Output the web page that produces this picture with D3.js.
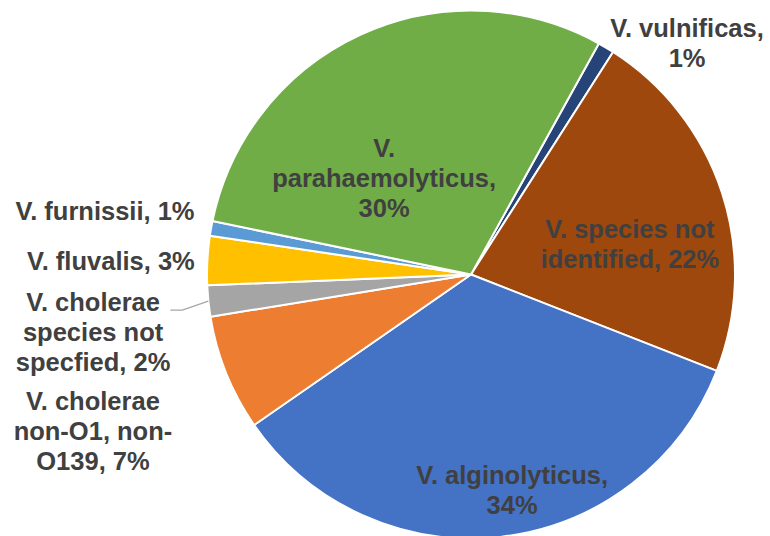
<!DOCTYPE html>
<html>
<head>
<meta charset="utf-8">
<script src="https://cdn.jsdelivr.net/npm/d3@7"></script>
<style>
  html, body { margin: 0; padding: 0; background: #fff; }
  svg { display: block; }
</style>
</head>
<body>
<svg width="770" height="536"></svg>
<script>
// slices in clockwise order, starting at the green / dark-blue boundary
var species = ["V. vulnificas", "V. species not identified", "V. alginolyticus",
  "V. cholerae non-O1, non-O139", "V. cholerae species not specfied",
  "V. fluvalis", "V. furnissii", "V. parahaemolyticus"];
var shares = [1.0, 21.9, 34.4, 7.1, 1.9, 3.0, 0.9, 29.8];
// label text as it appears, one entry per line ({p} = percentage)
var labelLines = [
  ["V. vulnificas,", "{p}"],
  ["V. species not", "identified, {p}"],
  ["V. alginolyticus,", "{p}"],
  ["V. cholerae", "non-O1, non-", "O139, {p}"],
  ["V. cholerae", "species not", "specfied, {p}"],
  ["V. fluvalis, {p}"],
  ["V. furnissii, {p}"],
  ["V.", "parahaemolyticus,", "{p}"]
];

var colors = ["#264478", "#9E480E", "#4472C4", "#ED7D31", "#A5A5A5", "#FFC000", "#5B9BD5", "#70AD47"];
// label placement: angle (deg, clockwise from 12 o'clock) and radius factor
var labelPlace = [[43.0, 1.2], [79.1, 0.613], [169.2, 0.831], [247.5, 1.55],
  [261.35, 1.448], [272.15, 1.365], [279.84, 1.407], [318.0, 0.492]];

var svg = d3.select("svg"),
  cx = 471, cy = 274.5, radius = 264,
  startDeg = 28.96,
  lineH = 30,
  g = svg.append("g").attr("transform", "translate(" + cx + "," + cy + ")");

var rad = function(deg) { return deg * Math.PI / 180; };

var pie = d3.pie()
  .sort(null)
  .value(function(d) { return d; })
  .startAngle(rad(startDeg))
  .endAngle(rad(startDeg + 360));

var arc = d3.arc().innerRadius(0).outerRadius(radius);
var arcs = pie(shares);

g.selectAll("path.slice")
  .data(arcs)
  .enter().append("path")
  .attr("class", "slice")
  .attr("fill", function(d, i) { return colors[i]; })
  .attr("stroke", "#fff")
  .attr("stroke-width", 2)
  .attr("stroke-linejoin", "round")
  .attr("d", arc);

var pct = function(v) { return Math.round(v) + "%"; };

var labels = g.selectAll("text.lbl")
  .data(arcs)
  .enter().append("text")
  .attr("class", "lbl")
  .attr("text-anchor", "middle")
  .style("font-family", "'Liberation Sans', Arial, sans-serif")
  .style("font-weight", "bold")
  .style("font-size", "25.5px")
  .style("fill", "#404040")
  .each(function(d, i) {
    var a = rad(labelPlace[i][0]), r = radius * labelPlace[i][1];
    var x = r * Math.sin(a), y = -r * Math.cos(a);
    var lines = labelLines[i];
    var y0 = y - (lines.length - 1) * lineH / 2 + 9;
    var t = d3.select(this);
    lines.forEach(function(s, k) {
      t.append("tspan")
        .attr("x", x)
        .attr("y", y0 + k * lineH)
        .text(s.replace("{p}", pct(d.value)));
    });
  });

// leader line for the small grey slice
var grey = arcs[4];
var mid = (grey.startAngle + grey.endAngle) / 2;
var p0 = [radius * Math.sin(mid), -radius * Math.cos(mid)];
var p1 = [p0[0] - 26, p0[1] + 9];
var p2 = [p1[0] - 12, p1[1]];
g.append("path")
  .attr("d", d3.line()([p0, p1, p2]))
  .attr("fill", "none")
  .attr("stroke", "#A6A6A6")
  .attr("stroke-width", 1.3);
</script>
</body>
</html>
